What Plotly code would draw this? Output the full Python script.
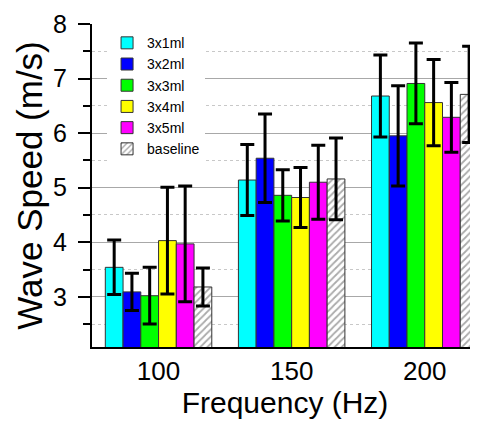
import plotly.graph_objects as go

categories = ["100", "150", "200"]
series_names = ["3x1ml", "3x2ml", "3x3ml", "3x4ml", "3x5ml", "baseline"]
values = {
    "3x1ml":   [3.54, 5.14, 6.68],
    "3x2ml":   [3.09, 5.54, 5.95],
    "3x3ml":   [3.02, 4.86, 6.91],
    "3x4ml":   [4.03, 4.82, 6.56],
    "3x5ml":   [3.97, 5.10, 6.29],
    "baseline": [3.18, 5.16, 6.71],
}
errors = {
    "3x1ml":   [0.50, 0.65, 0.75],
    "3x2ml":   [0.34, 0.81, 0.92],
    "3x3ml":   [0.52, 0.47, 0.74],
    "3x4ml":   [0.98, 0.55, 0.79],
    "3x5ml":   [1.06, 0.68, 0.64],
    "baseline": [0.35, 0.75, 0.88],
}
colors = ["#00FFFF", "#0000FF", "#00FF00", "#FFFF00", "#FF00FF", "#FFFFFF"]

fig = go.Figure()
for name, col in zip(series_names, colors):
    marker = dict(color=col, line=dict(color="#333333", width=1))
    if name == "baseline":
        marker["pattern"] = dict(shape="/", fgcolor="#555555", bgcolor="#FFFFFF",
                                 size=5, solidity=0.35)
    fig.add_trace(go.Bar(
        x=categories, y=values[name], name=name, marker=marker,
        error_y=dict(type="data", array=errors[name], visible=True,
                     color="black", thickness=3, width=7),
    ))

font = "Arial, Liberation Sans, sans-serif"
fig.update_layout(
    width=470, height=416,
    margin=dict(l=84, r=0, t=16, b=77, autoexpand=False),
    paper_bgcolor="white", plot_bgcolor="white",
    barmode="group", bargap=0.2, bargroupgap=0,
    font=dict(family=font, color="black"),
    showlegend=True,
    legend=dict(x=0.039, y=0.99, xanchor="left", yanchor="top",
                bgcolor="white", borderwidth=0, font=dict(size=14, family=font),
                tracegroupgap=0, itemwidth=30),
    xaxis=dict(range=[-0.5, 2.4], showline=True, linecolor="black", linewidth=2,
               ticks="", tickfont=dict(size=26), showgrid=False, automargin=False,
               title=dict(text="Frequency (Hz)", font=dict(size=30), standoff=0)),
    yaxis=dict(range=[2.08, 8.0], showline=True, linecolor="black", linewidth=2,
               tickmode="linear", tick0=3, dtick=1, automargin=False,
               ticks="outside", ticklen=12, tickwidth=2, tickcolor="black",
               tickfont=dict(size=25), ticklabelstandoff=6,
               showgrid=True, gridcolor="#A8A8A8", gridwidth=1, zeroline=False,
               minor=dict(dtick=0.5, tick0=2.5, ticks="outside", ticklen=7, tickwidth=2,
                          tickcolor="black", showgrid=True, gridcolor="#C8C8C8",
                          griddash="dot", gridwidth=1),
               title=dict(text="Wave Speed (m/s)", font=dict(size=35), standoff=0)),
)
fig.write_html("out.html")
